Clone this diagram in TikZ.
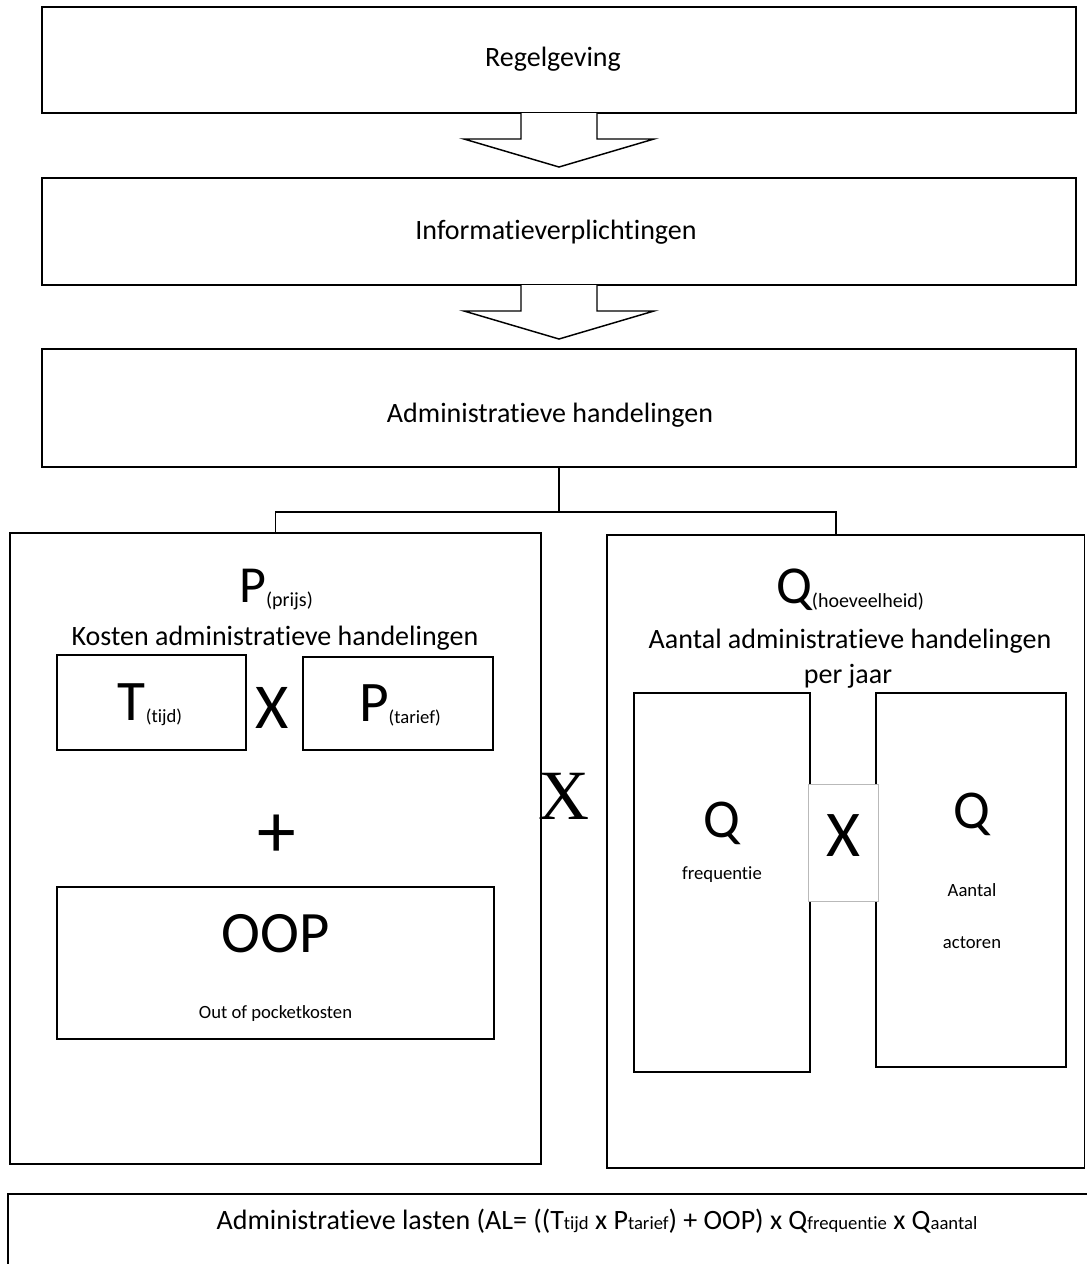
\documentclass[tikz,border=0pt]{standalone}
\usepackage{fontspec}
\setmainfont{Carlito}[Ligatures=NoCommon]
\newfontfamily\timesx{Liberation Serif}
\newcommand{\fs}[1]{\fontsize{#1}{#1}\selectfont}
% hol pijlblok onder een kader
\newcommand{\blokpijl}[1]{%
  \draw[line width=1.1pt,fill=white,line join=miter] (#1.south) ++(-38,0) -- ++(0,26) -- ++(-57,0)
    -- ++(95,28) -- ++(95,-28) -- ++(-57,0) -- ++(0,-26);}
\begin{document}
\begin{tikzpicture}[x=0.75pt,y=-0.75pt]
\useasboundingbox (0,0) rectangle (1086,1264);
\begin{scope}[every node/.style={rectangle,draw,line width=1.1pt,inner sep=0pt,outer sep=0pt}]
    \node[minimum width=775.5pt,minimum height=79.5pt] (regel) at (559,60) {};
    \node[minimum width=775.5pt,minimum height=80.25pt] (info) at (559,231.5) {};
    \node[minimum width=775.5pt,minimum height=88.5pt] (admin) at (559,408) {};
    \node[minimum width=398.25pt,minimum height=473.25pt] (prijs) at (275.5,848.5) {};
    \node[minimum width=358.1pt,minimum height=474.75pt] (aantal) at (845.75,851.5) {};
    \node[minimum width=141.75pt,minimum height=71.25pt] (tijd) at (151.5,702.5) {};
    \node[minimum width=142.5pt,minimum height=69.75pt] (tarief) at (398,703.5) {};
    \node[minimum width=327.75pt,minimum height=114pt] (oop) at (275.5,963) {};
    \node[minimum width=132pt,minimum height=284.25pt] (freq) at (722,882.5) {};
    \node[minimum width=142.5pt,minimum height=280.5pt] (actor) at (971,880) {};
    \node[minimum width=819pt,minimum height=72pt] (lasten) at (554,1242) {};
\end{scope}
\node[draw=gray!55,line width=0.5pt,fill=white,inner sep=0pt,minimum width=52.1pt,
      minimum height=87.75pt,text depth=10pt,font=\fs{49}] (maal) at (843.25,842.5) {X};
\blokpijl{regel}
\blokpijl{info}
\coordinate (hub) at (559,512);
\coordinate (qtop) at (836,535);
\begin{scope}[line width=1.1pt]
    \path (admin.south) edge (hub);
    \draw (prijs.north) |- (hub) -| (qtop);
\end{scope}
\begin{scope}[every node/.style={anchor=base,inner sep=0pt}]
    \node[font=\fs{21}] (t1) at (553,66) {Regelgeving};
    \node[font=\fs{21}] (t2) at (556,239) {Informatieverplichtingen};
    \node[font=\fs{21}] (t3) at (550,422) {Administratieve handelingen};
    \node (pkop) at (276,602) {\fs{39}P\raisebox{-3pt}{\fs{15}(prijs)}};
    \node[font=\fs{21}] (kosten) at (275,645) {Kosten administratieve handelingen};
    \node (tkop) at (150,720) {\fs{43}T\raisebox{-2pt}{\fs{14}(tijd)}};
    \node[font=\fs{48}] (x1) at (272,728) {X};
    \node (pkop2) at (400,721) {\fs{43}P\raisebox{-2pt}{\fs{14}(tarief)}};
    \node[font=\fs{58}] (plus) at (277,857) {+};
    \node[font=\fs{44}] (ooptxt) at (275.5,952) {OOP};
    \node[font=\fs{14}] (opk) at (275.5,1018) {Out of pocketkosten};
    \node[font=\timesx\fs{53}] (x2) at (564,819) {X};
    \node (qkop) at (850,603) {\fs{40}Q\raisebox{-3pt}{\fs{15}(hoeveelheid)}};
    \node[font=\fs{21}] (aah) at (850,648) {Aantal administratieve handelingen};
    \node[font=\fs{21}] (pj) at (848,683) {per jaar};
    \node[font=\fs{41}] (q1) at (722,837) {Q};
    \node[font=\fs{14}] (fr) at (722,879) {frequentie};
    \node[font=\fs{41}] (q2) at (972,828) {Q};
    \node[font=\fs{14}] (an) at (972,896) {Aantal};
    \node[font=\fs{14}] (ac) at (972,948) {actoren};
    \node[font=\fs{21}] (formule) at (597,1229) {Administratieve lasten (AL= ((T{\fs{14}tijd} x P{\fs{14}tarief}) + OOP) x Q{\fs{14}frequentie} x Q{\fs{14}aantal}};
\end{scope}
\end{tikzpicture}
\end{document}
